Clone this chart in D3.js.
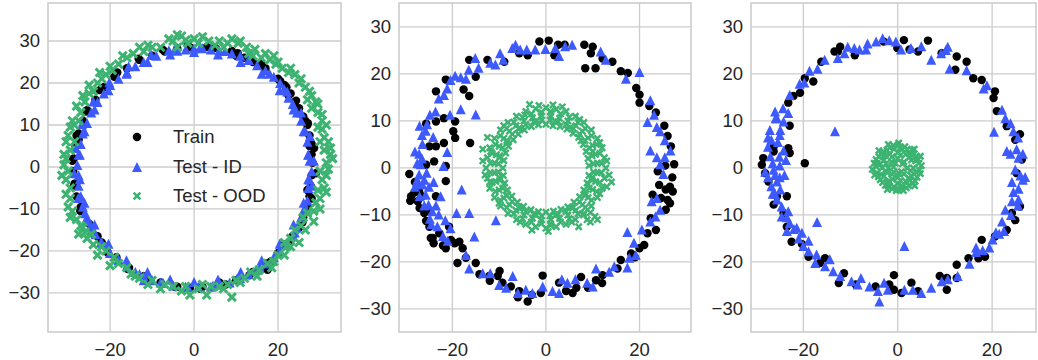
<!DOCTYPE html>
<html>
<head>
<meta charset="utf-8">
<script src="https://cdn.jsdelivr.net/npm/d3@7"></script>
<style>
  body { margin: 0; background: #fff; }
  svg text { font-family: "Liberation Sans", Arial, sans-serif; fill: #262626; }
</style>
</head>
<body>
<div id="chart"></div>
<script>
// tick labels
const xTicks = [-20, 0, 20];
const yTicks = [-30, -20, -10, 0, 10, 20, 30];
const seriesNames = ["Train", "Test - ID", "Test - OOD"];

// panel 1 : all three on the same ring
const train1 = [[-1,28.5],[3,28.6],[5,28.4],[9,27.6],[10,26.5],[14,25],[17,23.5],[20,21],[21.5,19.5],[22,19],[23,17.5],[24,15.5],[25,14],[26,12],[27,10],[27.5,7.5],[28,5.5],[28,3],[28.2,1],[28,-2],[27.8,-4.5],[27.5,-7],[27,-9.5],[26,-12],[25,-14.5],[23.5,-16.5],[21.5,-18.5],[20,-20.5],[17.5,-23],[14,-25],[10,-27],[6,-28],[2,-28.5],[-1,-28.8],[-4,-28.5],[-8,-27.5],[-12,-26],[-15.5,-24],[-18.5,-21.5],[-21,-19],[-23,-16.5],[-25,-13.5],[-27,-10.5],[-28,-7],[-28.5,-4],[-28.8,-1],[-28.7,2],[-28.3,5],[-27.5,8],[-26.5,11],[-25.5,13.5],[-23.5,16],[-21.5,19],[-19,21.5],[-16,23.5],[-13,25.5],[-10,26.5],[-7,27.5],[-4,28.2],[12,26],[16,24.5],[22.5,17],[26.5,11],[27.5,5],[27,-5.5],[-27.5,6.5],[-27,-9.5],[-22,-18],[6,-27.5],[17.5,-24.5],
  [28.6,4.5],[27.1,10.4],[24.3,15.8],[20.5,20.5],[15.8,24.3],[10.4,27.1],[4.5,28.6],[-1.5,29],[-7.5,28],[-13.2,25.8],[-18.3,22.5],[-22.5,18.3],[-25.8,13.2],[-28,7.5],[-29,1.5],[-28.6,-4.5],[-27.1,-10.4],[-24.3,-15.8],[-20.5,-20.5],[-15.8,-24.3],[-10.4,-27.1],[-4.5,-28.6],[1.5,-29],[7.5,-28],[13.2,-25.8],[18.3,-22.5],[22.5,-18.3],[25.8,-13.2],[28,-7.5],[29,-1.5]];
const id1 = [[0,28.2],[-2,28],[-4,27.7],[-6,27.8],[2,28.3],[4,28],[6,27.8],[9,27],[11,26.5],[13,25.5],[15,24.2],[17,23],[19,21.5],[20.5,20],[21.5,18.5],[22.5,16.5],[23.5,15],[24.5,13],[25.5,11],[26.5,8.5],[27,6],[27.2,3],[27.5,1.5],[28,-1],[27.5,-3],[27.2,-5],[27,-8],[26,-10.5],[25.5,-12],[24.5,-14.5],[23.5,-16.5],[22,-18.5],[20.5,-20],[19,-21.5],[17,-23],[15,-24.5],[13,-25.5],[11,-26.5],[8.5,-27.5],[6,-28],[4,-28.5],[1,-28.5],[-2,-28.5],[-5,-28.2],[-8,-27.5],[-10,-27],[-12,-26],[-14,-25],[-16,-23.5],[-18,-22],[-20,-20.5],[-22,-18],[-23.5,-16],[-24.5,-14],[-25.5,-12],[-26.5,-9.5],[-27,-7],[-27.5,-4.5],[-27.5,-2],[-27.8,0.5],[-27.5,3],[-27,5.5],[-26.5,8],[-25.5,10.5],[-24.5,13],[-23,15.5],[-21.5,17.5],[-20,19.5],[-18,21],[-16,22.5],[-14,24],[-12,25],[-9,26.5],[-26,-11],[-24,-15],[-12,-27],
  [28.56,1.5],[27.6,7.4],[25.5,13],[22.2,18],[18,22.2],[13,25.5],[7.4,27.6],[1.5,28.56],[-4.5,28.2],[-10.2,26.7],[-15.6,24],[-20.2,20.2],[-24,15.6],[-26.7,10.2],[-28.2,4.5],[-28.56,-1.5],[-27.6,-7.4],[-25.5,-13],[-22.2,-18],[-18,-22.2],[-13,-25.5],[-7.4,-27.6],[-1.5,-28.56],[4.5,-28.2],[10.2,-26.7],[15.6,-24],[20.2,-20.2],[24,-15.6],[26.7,-10.2],[28.2,-4.5],
  [27.2,2.9],[26.1,8.5],[23.7,13.7],[20.4,18.3],[16.1,22.2],[11.1,25],[5.7,26.8],[0,27.4],[-5.7,26.8],[-11.1,25],[-16.1,22.2],[-20.4,18.3],[-23.7,13.7],[-26.1,8.5],[-27.2,2.9],[-27.2,-2.9],[-26.1,-8.5],[-23.7,-13.7],[-20.4,-18.3],[-16.1,-22.2],[-11.1,-25],[-5.7,-26.8],[0,-27.4],[5.7,-26.8],[11.1,-25],[16.1,-22.2],[20.4,-18.3],[23.7,-13.7],[26.1,-8.5],[27.2,-2.9]];
const ood1 = [[-5,30],[-3,31.2],[-2,30.2],[-6,30.5],[-8,28.5],[-10,28.5],[-12,27.5],[-14.5,27],[-16,26],[-18,24.5],[-19.5,23],[-21,22],[-22,21],[-23,20],[-24,18],[-25,17.5],[-26,15.5],[-27,13],[-27.5,11],[-28.5,10],[-29.5,9.5],[-30,7.5],[-28.5,6],[-29.5,4],[-30.5,2],[-31,0.5],[-30,-1],[-30.5,-3],[-29.5,-5],[-29.5,-7.5],[-30,-9.5],[-29,-10.5],[-28,-12.5],[-27,-14],[-26,-15.5],[-25.5,-17],[-24,-18.5],[-22,-19],[-21,-20],[-19,-21.5],[-20,-23.5],[-16,-24],[-14,-26],[-13,-26.5],[-10,-27],[-7,-28],[-5,-28.5],[-3,-29.5],[-1,-30.5],[1,-29],[3,-30.5],[4,-28.5],[6,-28.5],[8,-28],[9,-31],[10,-27],[12,-26.5],[13.5,-25],[15.5,-24.5],[17.5,-23],[18.5,-24],[20,-21],[21.5,-21],[22,-19],[23,-17],[25,-18],[24,-15],[25.5,-14],[26,-12],[27,-11],[28.5,-10.5],[29,-8.5],[30,-7.5],[29.5,-5.5],[31,-5],[30.5,-3],[30,-1],[32,-0.5],[31.5,1],[32.5,3],[31,4],[30,6],[31,7],[30.5,9],[29.5,9.5],[30.5,11],[29.5,13],[28,14],[29,15.5],[27,16],[27.5,18],[26.5,19],[25,20],[24,22],[22.5,22.5],[21,23.5],[19.5,24.5],[18,25.5],[16,26],[14,26.5],[13,27],[12.5,28.5],[10.5,29.5],[9,30.5],[7,28.5],[5,29],[3.5,30],[1,29.5],[-1.5,29.5],[-4,28.5],[-26.5,-14.5],[-24.5,-16],[-8,-29],
  [20,25],[23,23.5],[25.5,21],[28,17],[29.5,15],[30.5,12.5],[31.5,10],[32,6],[32.5,4.5],[33,2],[31.5,-2],[31.5,-6],[30,-10],[28.5,-13],[26.5,-15],[-31.5,-2],[-31,3],[-30.5,6],[-29,11],[-28,14.5],[-26.5,17],[-25,19.5],[-22.5,22.5],[-20,24],[-17,26.5],[-13,28.5],[-11,29],[-4,31.5],[0,30.5],[2,31],[6,30],[8,29.5],[11,30],[14.5,28],[17,27],[19,26.5],[-30.5,-6.5],[-29.5,-12],[-27.5,-16],[-23,-21],[-18,-23],[-15,-25.5],[-11,-28],[-2,-28.5],[2,-28],[7,-29],[11,-27.5],[15,-26],[19,-22.5],[23,-19],[21.5,-18]];

// panel 2 : OOD forms an inner ring
const train2 = [[-1.4,26.9],[0.6,27.1],[2.6,26.2],[4,26.2],[1.8,24],[-3.9,24],[-5.7,24.4],[-8.9,22.6],[-12.5,23],[-16.4,23],[-15,19.4],[8.2,26.2],[10,25.8],[9.6,24.4],[8.4,21.2],[10.6,21.2],[14.2,22.6],[12.1,23.3],[16,20.6],[17.5,20.2],[19.3,17],[20,15.6],[20,13.9],[22.1,13.2],[23.5,11.8],[25.3,9],[26,6.8],[26.7,4.6],[27.4,0.8],[23.9,-0.7],[24.2,-3.6],[25.6,-4.6],[27.1,-5],[26,-6.8],[24.6,-6.4],[22.8,-5.7],[25.6,-8.9],[22.4,-10.7],[23.5,-13.2],[21.7,-13.9],[21,-16.4],[20,-17.1],[18.2,-18.2],[16,-19.6],[15.3,-21.4],[12.1,-22.8],[10.7,-23.9],[7.5,-23.2],[5.7,-26.6],[4.3,-26.2],[2.8,-24.4],[-0.7,-22.9],[-1.1,-26.6],[-3.9,-28.4],[-5.7,-26.2],[-7.5,-25.2],[-9.3,-24.4],[-10.3,-23],[-12.1,-23],[-14.2,-22.6],[-15,-20.2],[-17.1,-19.1],[-18.9,-20.2],[-17.8,-17.1],[-18.5,-15.7],[-20.3,-15.3],[-21.4,-17.1],[-22.8,-13.9],[-24.2,-14.9],[-24.9,-12.5],[-25.6,-11.3],[-26,-9.6],[-27.4,-7.1],[-28.8,-6],[-27.1,-5],[-23.5,-6],[-21.4,-2.8],[-21.4,0.4],[-23.9,1.4],[-25.6,0.7],[-23.5,4.6],[-21.8,5.3],[-23.5,9.9],[-21.8,10.6],[-19.4,9.9],[-19.8,7.8],[-19.4,6.4],[-16.2,5.3],[-16.4,15.3],[-17.6,16.7],[-21.4,18.8],[-23.5,16.3],[-25.6,9.4],[-24.9,4.6],[-29.2,-1.3],[-28.1,-5.2],[-20.7,-12.5],[-24.6,-14.9],[-9.9,-21.9],
  [-28,-3],[-27,-8.5],[-26.5,-6],[-29,-7],[-25,-9],[-24,-16],[-22,-16.5],[-19.5,-16],[-12,-24],[-6,-27.5],[-3,-27],[6.5,-25.5],[9,-25.5],[12,-24.5],[19,-19],[26.5,-7.5],[27,-2],[25.5,0.5],[26.5,-4]];
const id2 = [[-6.5,26.2],[-7.2,25.5],[-5.5,25.2],[-4.1,25.2],[-2.3,25.2],[-0.1,25.3],[2,25.5],[4.1,25.9],[5.6,26.2],[2.8,23.8],[-9.8,24.4],[-10.8,22],[-11.9,22.4],[-15.1,23.4],[-14.4,21.3],[-16.5,20.9],[-17.1,19],[-18.2,19.3],[-19.4,19.6],[-20.4,18.7],[-21.1,16.9],[-21.8,15.5],[-22.9,14.8],[-23.6,12],[-25.4,9.3],[-25.7,7.9],[-26.4,5.1],[-27.1,3],[-26.8,0.8],[-27.1,-1.4],[-26.4,-3.5],[-25.7,-5.7],[-25.1,-7.8],[-24.3,-9.2],[-22.9,-9.9],[-21.5,-11.1],[-20.4,-12.8],[-19.1,-9.6],[-18,-4.6],[-21.9,0.4],[-21.1,3.4],[-18.2,12.5],[-15,11.4],[-10.7,-11.1],[-16.4,-9.6],[-15.3,-14.6],[-17.1,-18.5],[-16.4,-21.4],[-13.5,-22.4],[-11.9,-22.4],[-10,-24.9],[-8.5,-25.5],[-7.1,-23],[-6,-26.6],[-4.3,-25.9],[-2.9,-26.6],[-0.7,-25.2],[1.4,-26.2],[2.8,-26.6],[3.4,-23.7],[4.6,-24.4],[6.3,-23.7],[8.8,-24.4],[10,-25.2],[10.7,-21.4],[13.5,-22.1],[14.6,-20.9],[17.4,-21.2],[17.8,-19.1],[19.2,-18.5],[17.4,-13.6],[18.8,-15.9],[20.5,-13.1],[22.3,-11.4],[23.4,-10.3],[24.4,-8.9],[22.6,-7.1],[23.7,-6.4],[25.1,-1.3],[24.4,0.8],[23.7,2.3],[25.4,2.3],[26.6,3.7],[22.3,3.7],[25.4,5.9],[24.4,7.8],[23.7,8.7],[21.7,9.8],[23.1,11.3],[22.3,14.4],[20,20.4],[17.1,19],[11.7,24.8],[12.8,23],[-9.1,23],[-24.8,11.3],[-24.1,6.6],[-20.5,11.3],[-26,-2.5],[-25,-4],[-27.5,-3],[-26.5,2],[-24.8,-10.8],[-23.2,-12.4],
  [-27.5,-2.5],[-28,-4],[-27,-6],[-26,-8],[-27.5,1],[-28,3.5],[-26.5,7],[-27,9],[-25.5,-1],[-24,-3],[-23.5,-8],[-22.5,-6],[-24.5,-12],[-22,-14.5],[-21,-15.5]];
const ood2 = [[9.2,0.5],[9,2],[8.6,3.5],[8,5],[7,6.5],[5.8,7.4],[4.5,8.3],[3,8.8],[1.5,9],[0,9.3],[-1.6,9.2],[-3.1,8.8],[-4.6,8.1],[-5.9,7.2],[-7,6],[-8,4.6],[-8.6,3.2],[-9,1.6],[-9.2,0],[-9.1,-1.6],[-8.8,-3.2],[-8.2,-4.7],[-7.3,-6],[-6.1,-7.3],[-4.8,-8.2],[-3.2,-8.9],[-1.6,-9.3],[0,-9.4],[1.6,-9.2],[3.2,-8.8],[4.7,-8.3],[6,-7.3],[7.2,-6.1],[8.1,-4.7],[8.8,-3.2],[9.2,-1.6],
  [11,1],[10.6,2.9],[10,4.8],[9,6.4],[7.8,7.8],[6.4,9],[4.7,10],[2.9,10.6],[1,11],[-1,11.1],[-2.9,10.7],[-4.7,10],[-6.4,9],[-7.8,7.8],[-9,6.3],[-10,4.6],[-10.6,2.8],[-11,1],[-11,-1],[-10.7,-2.9],[-10,-4.7],[-9,-6.4],[-7.8,-7.8],[-6.4,-9],[-4.7,-10],[-2.9,-10.7],[-1,-11.1],[1,-11],[2.9,-10.7],[4.7,-10],[6.4,-9],[7.8,-7.8],[9,-6.3],[10,-4.6],[10.6,-2.9],[11,-1],
  [12.8,0],[12.5,2.2],[12,4.3],[11,6.3],[9.7,8.1],[8.1,9.7],[6.3,11],[4.3,12],[2.2,12.5],[0,12.8],[-2.2,12.6],[-4.3,12],[-6.3,11],[-8.1,9.7],[-9.7,8.1],[-11,6.3],[-12,4.3],[-12.5,2.2],[-12.8,0],[-12.5,-2.2],[-12,-4.3],[-11,-6.3],[-9.7,-8.1],[-8.1,-9.7],[-6.3,-11],[-4.3,-12],[-2.2,-12.5],[0,-12.8],[2.2,-12.5],[4.3,-12],[6.3,-11],[8.1,-9.7],[9.7,-8.1],[11,-6.3],[12,-4.3],[12.5,-2.2],
  [10,3.5],[7.5,5.8],[5.2,8.6],[2,9.9],[-2,10],[-5.6,8.5],[-8.3,5.5],[-9.9,2.2],[-10,-2],[-8.5,-5.8],[-5.5,-8.6],[-2.1,-10],[2,-10.1],[5.5,-8.5],[8.5,-5.5],[10,-2],[11.8,-1],[11.5,5.4],[7.2,10.3],[1,12],[-4.5,11.3],[-9,9],[-11.8,3.5],[-12,-3],[-10,-7.5],[-5.5,-11.5],[1,-12.2],[5.5,-11.5],[9.5,-9.5],[10.5,-10.3],[8.8,-11],[11.5,-5.5],[13,1.5],[13.5,-1.5],[-13.5,1.5],[-13,-1.5],[1.5,13.4],[-1.5,13.3],[0.5,-13.5],[-3,-13.2],
  [10.2,0.9],[9.85,2.6],[9.25,4.3],[8.35,5.85],[7.2,7.2],[5.85,8.35],[4.3,9.25],[2.6,9.85],[0.9,10.2],[-0.9,10.2],[-2.6,9.85],[-4.3,9.25],[-5.85,8.35],[-7.2,7.2],[-8.35,5.85],[-9.25,4.3],[-9.85,2.6],[-10.2,0.9],[-10.2,-0.9],[-9.85,-2.6],[-9.25,-4.3],[-8.35,-5.85],[-7.2,-7.2],[-5.85,-8.35],[-4.3,-9.25],[-2.6,-9.85],[-0.9,-10.2],[0.9,-10.2],[2.6,-9.85],[4.3,-9.25],[5.85,-8.35],[7.2,-7.2],[8.35,-5.85],[9.25,-4.3],[9.85,-2.6],[10.2,-0.9],
  [11.85,1],[11.5,3.1],[10.8,5],[9.75,6.85],[8.4,8.4],[6.85,9.75],[5,10.8],[3.1,11.5],[1,11.85],[-1,11.85],[-3.1,11.5],[-5,10.8],[-6.85,9.75],[-8.4,8.4],[-9.75,6.85],[-10.8,5],[-11.5,3.1],[-11.85,1],[-11.85,-1],[-11.5,-3.1],[-10.8,-5],[-9.75,-6.85],[-8.4,-8.4],[-6.85,-9.75],[-5,-10.8],[-3.1,-11.5],[-1,-11.85],[1,-11.85],[3.1,-11.5],[5,-10.8],[6.85,-9.75],[8.4,-8.4],[9.75,-6.85],[10.8,-5],[11.5,-3.1],[11.85,-1],
  [8,-10],[9.5,-11.5],[11,-11],[7,-12.5],[13,-4],[14,-3],[-13.5,4],[-12.5,6.5],[-3.5,13.5],[3.5,13]];

// panel 3 : OOD collapses to a small blob
const train3 = [[6.4,27.1],[-0.1,25.5],[1.3,27.2],[-3,26.9],[-12.2,25.8],[-13.4,24.8],[-9.1,24],[2.5,25.2],[4.3,24.8],[9.3,24.4],[12.5,23.7],[12.2,20.9],[14.6,22.6],[16,19.1],[17.8,18.7],[20.6,16.3],[20.3,14.9],[21,12.1],[23.1,8.9],[25.9,7.2],[24.9,6],[26.3,1.8],[25.2,-1.1],[25.9,-8.2],[24.2,-9.6],[24.9,-11.1],[23.1,-13.2],[20.6,-14.6],[17.8,-15.3],[18.5,-18.9],[17.1,-19.2],[15,-19.2],[12.5,-20.6],[10.4,-23.4],[10.4,-25.9],[8.9,-23],[12.5,-23.4],[4.3,-26.2],[2.9,-24.4],[0.8,-26.6],[-0.8,-25.9],[-1.8,-24.8],[-0.8,-22.8],[-4.7,-25.2],[-8.9,-24.8],[-11.4,-22.4],[-12.5,-24.5],[-15.4,-19.2],[-16.5,-20.2],[-18.9,-18.9],[-20.3,-16.2],[-22.5,-15.7],[-23.5,-12.5],[-24.2,-9.6],[-26.3,-7.8],[-23.5,-6],[-27.4,-2.9],[-28.1,-1.1],[-28.8,0.7],[-28.5,2.1],[-26.3,3.5],[-22.9,3.2],[-23.2,4.2],[-19.7,1],[-22.9,9],[-23.2,13.9],[-22.1,15.3],[-20.7,16],[-19.7,19.1],[-17.9,18.4],[-16.2,22.6],[-12.7,24.8],[-26.3,4.5],[-25.6,-6]];
const id3 = [[-25.6,10.6],[-24.2,9.9],[-23.2,11.7],[-24.9,8.1],[-27.1,8.1],[-26.8,6],[-27.5,4.5],[-25.4,5.5],[-24.2,3.7],[-28.1,-0.8],[-26.3,-0.4],[-25.6,-2.9],[-26.8,-3.9],[-24.9,-4.6],[-25.6,-6.7],[-24.6,-8.2],[-23.2,-9.2],[-24.6,-10.3],[-22.9,-11.7],[-23.5,-13.4],[-21.4,-12.7],[-20.3,-13.8],[-18.9,-15.5],[-20,-16.6],[-18.9,-17.7],[-17.2,-18.4],[-17.5,-20.2],[-15.4,-20.9],[-14.4,-19.4],[-13.7,-22],[-12.2,-23],[-9.8,-24.1],[-7.8,-23.4],[-8.5,-24.8],[-6,-25.2],[-4.2,-26.2],[-3.9,-28.4],[-2.9,-24.4],[-2.1,-25.9],[1.4,-25.9],[3.2,-25.9],[5,-26.6],[7.1,-25.5],[9.3,-24.1],[10.6,-23.7],[12.7,-23],[15.2,-20.4],[16.6,-17.9],[16.6,-16.9],[19.4,-16.9],[20.1,-15.2],[20.8,-13.7],[22.5,-13.4],[22.1,-11.4],[22.8,-8.9],[24.2,-7.1],[25.6,-6.7],[24.5,-5.1],[25.6,-4.4],[24.2,-3],[26,-1.6],[27,-1.9],[24.9,-0.3],[25.6,2.2],[23.9,3],[25.2,4],[23.1,3.6],[24.5,7.8],[23.9,9.5],[22.8,10.6],[22.1,12.4],[20.4,7.7],[18.9,17.6],[18.2,16.9],[14.6,20.8],[11,21.1],[10.2,25.1],[10.6,25.8],[9.2,24.4],[7.1,23],[5,25.9],[2.8,25.5],[0.7,25.2],[-0.4,26.9],[-1.8,27.2],[-3.2,27.6],[-4.6,26.9],[-6.4,26.5],[-6.7,25.2],[-8.1,25.2],[-9.2,25.5],[-10.6,25.8],[-11.3,24.4],[-12.7,23.4],[-15.5,23],[-17,21.1],[-18.7,20.7],[-19.8,18.2],[-20.8,17.9],[-22.9,15.5],[-24.3,12.7],[-13.3,7.8],[-17.1,-11.5],[1.4,-16.6],[-25.9,10.6],[-25.1,2.4],[-23.7,1.7],[-26,-5.5],[-25,-2],[-26.5,1],
  [-26.5,-5.5],[-27.5,-2],[-27,2.5],[-26,-1.5],[-25,0.5],[-24,-1.5],[-27.5,6.5],[-26,12],[-25,7],[-23.5,-10.5],[-22,-13],[-21,-15],[26.5,-2.5],[25.5,-8],[24,-10],[26.5,3],[25.5,6.5],[21.5,-14],[18,-17.5]];
const ood3 = [[0,4.8],[1.5,4.5],[3,3.8],[4,2.5],[4.5,1],[4.6,-0.5],[4.1,-2],[3.2,-3.3],[1.8,-4.2],[0.3,-4.6],[-1.2,-4.4],[-2.6,-3.7],[-3.7,-2.5],[-4.4,-1],[-5.4,-0.3],[-4.4,1],[-4,2.4],[-3.1,3.5],[-1.7,4.3],[0,3.3],[1.7,2.9],[2.9,1.7],[3.3,0],[2.9,-1.7],[1.7,-2.9],[0,-3.3],[-1.7,-2.9],[-2.9,-1.7],[-3.3,0],[-2.9,1.7],[-1.7,2.9],[0,2],[1.3,1.3],[2,0],[1.3,-1.3],[0,-2],[-1.3,-1.3],[-2,0],[-1.3,1.3],[1,4],[2.5,3],[3.8,1.5],[3.9,-1],[2.6,-2.6],[1,-3.9],[-0.8,-4],[-2.3,-3],[-3.5,-1.4],[-3.7,0.9],[-2.6,2.7],[-0.8,4],[-0.5,1],[0.8,-0.8],[-0.8,-0.9],[0.2,5.3],[-0.3,-4.8],[5,0.5],[-4.9,-1.5],[3.5,4],[-2,5],
  [0.5,4.3],[2,4],[3.3,2.8],[4.3,1.8],[4.8,-1.2],[3.7,-2.8],[2.3,-3.8],[0.8,-4.3],[-1.8,-4],[-3.2,-3.1],[-4.1,-1.9],[-4.6,0.3],[-4.6,1.8],[-3.6,3],[-2.3,3.8],[-0.9,4.8],[0.6,2.7],[2.4,2.2],[2.7,-0.6],[2.3,-2.1],[0.6,-2.7],[-1.1,-2.4],[-2.4,-0.8],[-2.5,0.9],[-1.2,2.4],[1.2,-4.8],[-2.2,-4.6],[4.8,2.5],[-5,1],[1,0.9],[-0.9,0.2],[0.2,-1.1],[3.6,-3.8],[-4,3.7]];

const colors = {train: "#000000", id: "#3d5afe", ood: "#3cb371"};

const width = 1038, height = 360;
const svg = d3.select("#chart").append("svg")
  .attr("width", width)
  .attr("height", height);

const panels = [
  {train: train1, id: id1, ood: ood1, x0: 48, x1: 341, xDom: [-34.8, 35], yDom: [-39.3, 39.05], xSize: 4, xStroke: 3, legend: true},
  {train: train2, id: id2, ood: ood2, x0: 399, x1: 691, xDom: [-31.4, 31], yDom: [-34.9, 35.1], xSize: 3.1, xStroke: 2.4, legend: false},
  {train: train3, id: id3, ood: ood3, x0: 751, x1: 1036, xDom: [-31.1, 29.3], yDom: [-34.9, 35.1], xSize: 3.1, xStroke: 2.4, legend: false}
];
const plotTop = 3, plotBottom = 332;
const fontSize = 18.5;

const circle = d3.symbol().type(d3.symbolCircle).size(56);
// matplotlib style '^' : base and height equal
const tri = "M0,-5L-5,5L5,5Z";
function xPath(s) { return `M${-s},${-s}L${s},${s}M${-s},${s}L${s},${-s}`; }
const fmt = d => d < 0 ? "\u2212" + Math.abs(d) : String(d);

panels.forEach(p => {
  const x = d3.scaleLinear().domain(p.xDom).range([p.x0, p.x1]);
  const y = d3.scaleLinear().domain(p.yDom).range([plotBottom, plotTop]);
  const g = svg.append("g");

  // grid
  g.selectAll(".vg").data(xTicks).enter().append("line")
    .attr("x1", d => x(d)).attr("x2", d => x(d))
    .attr("y1", plotTop).attr("y2", plotBottom)
    .attr("stroke", "#cccccc").attr("stroke-width", 1.3);
  g.selectAll(".hg").data(yTicks).enter().append("line")
    .attr("x1", p.x0).attr("x2", p.x1)
    .attr("y1", d => y(d)).attr("y2", d => y(d))
    .attr("stroke", "#cccccc").attr("stroke-width", 1.3);

  // frame
  g.append("rect")
    .attr("x", p.x0).attr("y", plotTop)
    .attr("width", p.x1 - p.x0).attr("height", plotBottom - plotTop)
    .attr("fill", "none").attr("stroke", "#cccccc").attr("stroke-width", 1.6);

  // tick labels
  g.selectAll(".xt").data(xTicks).enter().append("text")
    .attr("x", d => x(d)).attr("y", 356)
    .attr("text-anchor", "middle").attr("font-size", fontSize)
    .text(fmt);
  g.selectAll(".yt").data(yTicks).enter().append("text")
    .attr("x", p.x0 - 8).attr("y", d => y(d)).attr("dy", "0.35em")
    .attr("text-anchor", "end").attr("font-size", fontSize)
    .text(fmt);

  // points: train, test-id, test-ood
  g.selectAll(".tr").data(p.train).enter().append("path")
    .attr("d", circle)
    .attr("transform", d => `translate(${x(d[0])},${y(d[1])})`)
    .attr("fill", colors.train);
  g.selectAll(".ti").data(p.id).enter().append("path")
    .attr("d", tri)
    .attr("transform", d => `translate(${x(d[0])},${y(d[1])})`)
    .attr("fill", colors.id);
  g.selectAll(".to").data(p.ood).enter().append("path")
    .attr("d", xPath(p.xSize))
    .attr("transform", d => `translate(${x(d[0])},${y(d[1])})`)
    .attr("fill", "none").attr("stroke", colors.ood).attr("stroke-width", p.xStroke);

  if (p.legend) {
    const lg = g.append("g");
    const rows = [137, 167, 196];
    lg.append("path").attr("d", circle).attr("transform", `translate(137,${rows[0]})`).attr("fill", colors.train);
    lg.append("path").attr("d", tri).attr("transform", `translate(137,${rows[1]})`).attr("fill", colors.id);
    lg.append("path").attr("d", xPath(3.4)).attr("transform", `translate(137,${rows[2]})`)
      .attr("fill", "none").attr("stroke", colors.ood).attr("stroke-width", 2.6);
    lg.selectAll("text").data(seriesNames).enter().append("text")
      .attr("x", 173).attr("y", (d, i) => rows[i]).attr("dy", "0.35em")
      .attr("font-size", fontSize)
      .text(d => d);
  }
});
</script>
</body>
</html>
